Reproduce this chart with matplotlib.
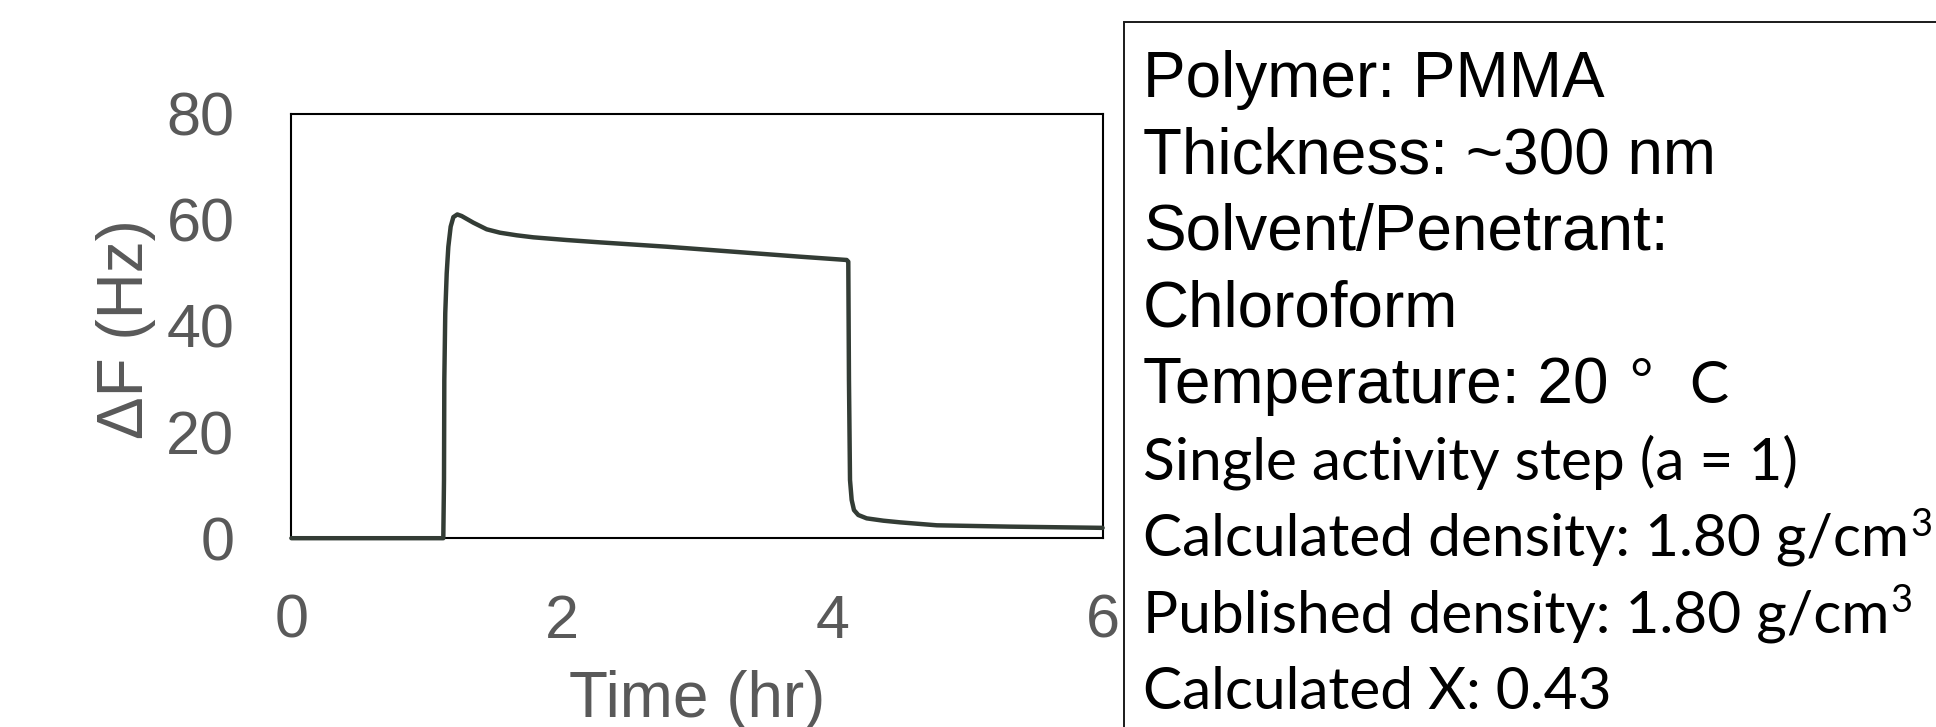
import matplotlib
matplotlib.use("Agg")
import matplotlib.pyplot as plt
from matplotlib.patches import Rectangle

# QCM frequency shift during a single sorption/desorption step
time_hr = [0.0, 1.1235, 1.1287, 1.131, 1.138, 1.1487, 1.1607, 1.178, 1.198,
           1.227, 1.2596, 1.3456, 1.4445, 1.543, 1.6664, 1.789, 2.036, 2.2825,
           2.776, 3.2685, 3.762, 4.107, 4.119, 4.124, 4.1317, 4.144, 4.161,
           4.193, 4.255, 4.378, 4.501, 4.774, 5.31, 6.0]
delta_f_hz = [0.0, 0.0, 10.97, 29.8, 42.4, 49.9, 54.9, 58.7, 60.5,
              61.0, 60.7, 59.45, 58.2, 57.56, 57.07, 56.69, 56.18, 55.74,
              54.92, 53.98, 53.04, 52.42, 52.1, 29.8, 10.97, 7.2, 5.3,
              4.37, 3.74, 3.3, 2.99, 2.43, 2.18, 1.95]

x_ticks = [0, 2, 4, 6]
y_ticks = [0, 20, 40, 60, 80]
x_label = "Time (hr)"
y_label = "ΔF (Hz)"

info_lines_top = ["Polymer: PMMA", "Thickness: ~300 nm", "Solvent/Penetrant:", "Chloroform"]
temperature_text = "Temperature: 20"
temperature_degree = "°"
temperature_unit = "C"
info_lines_bottom = ["Single activity step (a = 1)",
                     "Calculated density: 1.80 g/cm³",
                     "Published density: 1.80 g/cm³",
                     "Calculated X: 0.43"]

plt.rcParams['font.family'] = ['Liberation Sans', 'DejaVu Sans']
humanist = ['Lato', 'DejaVu Sans']

W, H, DPI = 1936, 727, 100
fig = plt.figure(figsize=(W / DPI, H / DPI), dpi=DPI)
fig.patch.set_facecolor('white')


def fx(px):
    return px / W


def fy(py):
    return 1 - py / H


# plotting area
ax_left, ax_right, ax_top, ax_bottom = 291.4, 1102.6, 113.6, 538.2
ax = fig.add_axes([fx(ax_left), fy(ax_bottom),
                   (ax_right - ax_left) / W, (ax_bottom - ax_top) / H])
ax.plot(time_hr, delta_f_hz, color='#333c35', lw=3.2,
        solid_joinstyle='round', solid_capstyle='round', clip_on=False, zorder=3)
ax.set_xlim(0, 6)
ax.set_ylim(0, 80)
ax.set_xticks(x_ticks)
ax.set_yticks(y_ticks)
ax.tick_params(axis='both', length=0, labelsize=44, labelcolor='#595959')
ax.tick_params(axis='y', pad=41)
ax.tick_params(axis='x', pad=40)
for sp in ax.spines.values():
    sp.set_linewidth(1.5)
    sp.set_color('black')

label_color = '#595959'
fig.text(fx(697), fy(717), x_label, ha='center', va='baseline',
         fontsize=46, color=label_color)
fig.text(fx(143), fy(329), y_label, rotation=90, rotation_mode='anchor',
         ha='center', va='baseline', fontsize=46, color=label_color)

# information panel
box = Rectangle((fx(1124), fy(780)), (2100 - 1124) / W, (780 - 22) / H,
                transform=fig.transFigure, fill=False, lw=1.4,
                edgecolor='#1a1a1a', clip_on=False)
fig.add_artist(box)

baseline0, step = 97.0, 76.5
for i, line in enumerate(info_lines_top):
    fig.text(fx(1143), fy(baseline0 + step * i), line, ha='left', va='baseline',
             fontsize=46, color='black')

renderer = fig.canvas.get_renderer()

# lower block: main text with the cubic exponent drawn as a raised digit
base_size = 42.0
main_parts, sup_parts = [], []
for line in info_lines_bottom:
    if '³' in line:
        main_parts.append(line.replace('³', ''))
        sup_parts.append('3')
    else:
        main_parts.append(line)
        sup_parts.append('')

bottom_texts = []
for j, main in enumerate(main_parts):
    t = fig.text(fx(1143), fy(baseline0 + step * (5 + j)), main, ha='left',
                 va='baseline', fontsize=base_size, color='black', family=humanist)
    bottom_texts.append(t)

# fit the widest line (without its exponent) to the panel width
widest = bottom_texts[1].get_window_extent(renderer)
scale = (1913 - 1146) / widest.width
size = base_size * scale
for t in bottom_texts:
    t.set_fontsize(size)

size_px = size * DPI / 72.0
for j, (t, sup) in enumerate(zip(bottom_texts, sup_parts)):
    if not sup:
        continue
    bb = t.get_window_extent(renderer)
    base_y = baseline0 + step * (5 + j)
    fig.text(fx(bb.x1 + 1), fy(base_y - 0.345 * size_px), sup, ha='left',
             va='baseline', fontsize=size * 0.65, color='black', family=humanist)

temp_base = baseline0 + step * 4
fig.text(fx(1143), fy(temp_base), temperature_text, ha='left', va='baseline',
         fontsize=46, color='black')
fig.text(fx(1628), fy(temp_base), temperature_degree, ha='left', va='baseline',
         fontsize=46, color='black')
fig.text(fx(1689), fy(temp_base), temperature_unit, ha='left', va='baseline',
         fontsize=size, color='black', family=humanist)

fig.savefig('out.png', dpi=DPI)
